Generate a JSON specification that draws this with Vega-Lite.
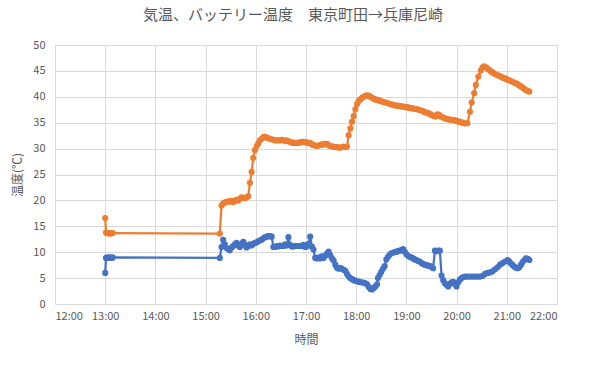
{
  "$schema": "https://vega.github.io/schema/vega-lite/v6.json",
  "width": 502,
  "height": 259,
  "autosize": {"type": "none"},
  "padding": {"left": 55, "top": 45, "right": 47, "bottom": 62},
  "background": "white",
  "title": {
    "text": "気温、バッテリー温度　東京町田→兵庫尼崎",
    "anchor": "middle",
    "dx": -13,
    "offset": 16,
    "font": "Noto Sans CJK JP",
    "fontSize": 15,
    "fontWeight": "normal",
    "color": "#595959"
  },
  "data": {
    "values": [
      {"t": "2024-01-01T13:00", "s": "気温", "v": 6.0},
      {"t": "2024-01-01T13:01", "s": "気温", "v": 8.9},
      {"t": "2024-01-01T13:02", "s": "気温", "v": 8.9},
      {"t": "2024-01-01T13:03", "s": "気温", "v": 9.0},
      {"t": "2024-01-01T13:04", "s": "気温", "v": 8.9},
      {"t": "2024-01-01T13:05", "s": "気温", "v": 8.9},
      {"t": "2024-01-01T13:06", "s": "気温", "v": 9.0},
      {"t": "2024-01-01T13:07", "s": "気温", "v": 8.9},
      {"t": "2024-01-01T13:08", "s": "気温", "v": 8.9},
      {"t": "2024-01-01T13:09", "s": "気温", "v": 9.0},
      {"t": "2024-01-01T15:17", "s": "気温", "v": 8.9},
      {"t": "2024-01-01T15:19", "s": "気温", "v": 11.0},
      {"t": "2024-01-01T15:21", "s": "気温", "v": 12.4},
      {"t": "2024-01-01T15:23", "s": "気温", "v": 11.5},
      {"t": "2024-01-01T15:25", "s": "気温", "v": 10.8},
      {"t": "2024-01-01T15:27", "s": "気温", "v": 10.6},
      {"t": "2024-01-01T15:29", "s": "気温", "v": 10.4},
      {"t": "2024-01-01T15:31", "s": "気温", "v": 10.9},
      {"t": "2024-01-01T15:33", "s": "気温", "v": 11.2},
      {"t": "2024-01-01T15:35", "s": "気温", "v": 11.5},
      {"t": "2024-01-01T15:37", "s": "気温", "v": 11.8},
      {"t": "2024-01-01T15:39", "s": "気温", "v": 11.3},
      {"t": "2024-01-01T15:41", "s": "気温", "v": 11.0},
      {"t": "2024-01-01T15:43", "s": "気温", "v": 11.6},
      {"t": "2024-01-01T15:45", "s": "気温", "v": 12.0},
      {"t": "2024-01-01T15:47", "s": "気温", "v": 11.4},
      {"t": "2024-01-01T15:49", "s": "気温", "v": 10.9},
      {"t": "2024-01-01T15:51", "s": "気温", "v": 11.2},
      {"t": "2024-01-01T15:53", "s": "気温", "v": 11.5},
      {"t": "2024-01-01T15:55", "s": "気温", "v": 11.3},
      {"t": "2024-01-01T15:57", "s": "気温", "v": 11.6},
      {"t": "2024-01-01T15:59", "s": "気温", "v": 11.8},
      {"t": "2024-01-01T16:01", "s": "気温", "v": 11.9},
      {"t": "2024-01-01T16:03", "s": "気温", "v": 12.1},
      {"t": "2024-01-01T16:05", "s": "気温", "v": 12.3},
      {"t": "2024-01-01T16:07", "s": "気温", "v": 12.4},
      {"t": "2024-01-01T16:09", "s": "気温", "v": 12.7},
      {"t": "2024-01-01T16:11", "s": "気温", "v": 12.9},
      {"t": "2024-01-01T16:13", "s": "気温", "v": 13.0},
      {"t": "2024-01-01T16:15", "s": "気温", "v": 13.1},
      {"t": "2024-01-01T16:17", "s": "気温", "v": 13.1},
      {"t": "2024-01-01T16:19", "s": "気温", "v": 13.0},
      {"t": "2024-01-01T16:21", "s": "気温", "v": 11.0},
      {"t": "2024-01-01T16:23", "s": "気温", "v": 11.0},
      {"t": "2024-01-01T16:25", "s": "気温", "v": 11.2},
      {"t": "2024-01-01T16:27", "s": "気温", "v": 11.1},
      {"t": "2024-01-01T16:29", "s": "気温", "v": 11.3},
      {"t": "2024-01-01T16:31", "s": "気温", "v": 11.2},
      {"t": "2024-01-01T16:33", "s": "気温", "v": 11.2},
      {"t": "2024-01-01T16:35", "s": "気温", "v": 11.5},
      {"t": "2024-01-01T16:37", "s": "気温", "v": 11.3},
      {"t": "2024-01-01T16:39", "s": "気温", "v": 12.9},
      {"t": "2024-01-01T16:41", "s": "気温", "v": 11.4},
      {"t": "2024-01-01T16:43", "s": "気温", "v": 11.1},
      {"t": "2024-01-01T16:45", "s": "気温", "v": 11.1},
      {"t": "2024-01-01T16:47", "s": "気温", "v": 11.2},
      {"t": "2024-01-01T16:49", "s": "気温", "v": 11.2},
      {"t": "2024-01-01T16:51", "s": "気温", "v": 11.2},
      {"t": "2024-01-01T16:53", "s": "気温", "v": 11.2},
      {"t": "2024-01-01T16:55", "s": "気温", "v": 11.2},
      {"t": "2024-01-01T16:57", "s": "気温", "v": 11.4},
      {"t": "2024-01-01T16:59", "s": "気温", "v": 11.0},
      {"t": "2024-01-01T17:01", "s": "気温", "v": 11.1},
      {"t": "2024-01-01T17:03", "s": "気温", "v": 11.6},
      {"t": "2024-01-01T17:05", "s": "気温", "v": 13.0},
      {"t": "2024-01-01T17:07", "s": "気温", "v": 11.1},
      {"t": "2024-01-01T17:09", "s": "気温", "v": 10.5},
      {"t": "2024-01-01T17:11", "s": "気温", "v": 8.9},
      {"t": "2024-01-01T17:13", "s": "気温", "v": 8.8},
      {"t": "2024-01-01T17:15", "s": "気温", "v": 9.0},
      {"t": "2024-01-01T17:17", "s": "気温", "v": 8.8},
      {"t": "2024-01-01T17:19", "s": "気温", "v": 9.2},
      {"t": "2024-01-01T17:21", "s": "気温", "v": 8.9},
      {"t": "2024-01-01T17:23", "s": "気温", "v": 9.3},
      {"t": "2024-01-01T17:25", "s": "気温", "v": 9.7},
      {"t": "2024-01-01T17:27", "s": "気温", "v": 10.1},
      {"t": "2024-01-01T17:29", "s": "気温", "v": 9.4},
      {"t": "2024-01-01T17:31", "s": "気温", "v": 8.8},
      {"t": "2024-01-01T17:33", "s": "気温", "v": 8.4},
      {"t": "2024-01-01T17:35", "s": "気温", "v": 7.6},
      {"t": "2024-01-01T17:37", "s": "気温", "v": 7.0},
      {"t": "2024-01-01T17:39", "s": "気温", "v": 6.8},
      {"t": "2024-01-01T17:41", "s": "気温", "v": 7.0},
      {"t": "2024-01-01T17:43", "s": "気温", "v": 6.8},
      {"t": "2024-01-01T17:45", "s": "気温", "v": 6.6},
      {"t": "2024-01-01T17:47", "s": "気温", "v": 6.4},
      {"t": "2024-01-01T17:49", "s": "気温", "v": 5.8},
      {"t": "2024-01-01T17:51", "s": "気温", "v": 5.3},
      {"t": "2024-01-01T17:53", "s": "気温", "v": 5.0},
      {"t": "2024-01-01T17:55", "s": "気温", "v": 4.8},
      {"t": "2024-01-01T17:57", "s": "気温", "v": 4.6},
      {"t": "2024-01-01T17:59", "s": "気温", "v": 4.5},
      {"t": "2024-01-01T18:01", "s": "気温", "v": 4.4},
      {"t": "2024-01-01T18:03", "s": "気温", "v": 4.3},
      {"t": "2024-01-01T18:05", "s": "気温", "v": 4.2},
      {"t": "2024-01-01T18:07", "s": "気温", "v": 4.2},
      {"t": "2024-01-01T18:09", "s": "気温", "v": 4.1},
      {"t": "2024-01-01T18:11", "s": "気温", "v": 4.0},
      {"t": "2024-01-01T18:13", "s": "気温", "v": 3.8},
      {"t": "2024-01-01T18:15", "s": "気温", "v": 3.3},
      {"t": "2024-01-01T18:17", "s": "気温", "v": 2.9},
      {"t": "2024-01-01T18:19", "s": "気温", "v": 2.8},
      {"t": "2024-01-01T18:21", "s": "気温", "v": 3.1},
      {"t": "2024-01-01T18:23", "s": "気温", "v": 3.4},
      {"t": "2024-01-01T18:25", "s": "気温", "v": 3.8},
      {"t": "2024-01-01T18:26", "s": "気温", "v": 5.0},
      {"t": "2024-01-01T18:28", "s": "気温", "v": 5.6},
      {"t": "2024-01-01T18:30", "s": "気温", "v": 6.2},
      {"t": "2024-01-01T18:32", "s": "気温", "v": 6.8},
      {"t": "2024-01-01T18:34", "s": "気温", "v": 7.3},
      {"t": "2024-01-01T18:36", "s": "気温", "v": 8.6},
      {"t": "2024-01-01T18:38", "s": "気温", "v": 9.1},
      {"t": "2024-01-01T18:40", "s": "気温", "v": 9.5},
      {"t": "2024-01-01T18:42", "s": "気温", "v": 9.8},
      {"t": "2024-01-01T18:44", "s": "気温", "v": 9.9},
      {"t": "2024-01-01T18:46", "s": "気温", "v": 10.0},
      {"t": "2024-01-01T18:48", "s": "気温", "v": 10.1},
      {"t": "2024-01-01T18:50", "s": "気温", "v": 10.2},
      {"t": "2024-01-01T18:52", "s": "気温", "v": 10.3},
      {"t": "2024-01-01T18:54", "s": "気温", "v": 10.4},
      {"t": "2024-01-01T18:56", "s": "気温", "v": 10.6},
      {"t": "2024-01-01T18:58", "s": "気温", "v": 10.1},
      {"t": "2024-01-01T19:00", "s": "気温", "v": 9.6},
      {"t": "2024-01-01T19:02", "s": "気温", "v": 9.3},
      {"t": "2024-01-01T19:04", "s": "気温", "v": 9.1},
      {"t": "2024-01-01T19:06", "s": "気温", "v": 9.0},
      {"t": "2024-01-01T19:08", "s": "気温", "v": 8.8},
      {"t": "2024-01-01T19:10", "s": "気温", "v": 8.6},
      {"t": "2024-01-01T19:12", "s": "気温", "v": 8.5},
      {"t": "2024-01-01T19:14", "s": "気温", "v": 8.3},
      {"t": "2024-01-01T19:16", "s": "気温", "v": 8.2},
      {"t": "2024-01-01T19:18", "s": "気温", "v": 7.9},
      {"t": "2024-01-01T19:20", "s": "気温", "v": 7.7},
      {"t": "2024-01-01T19:22", "s": "気温", "v": 7.6},
      {"t": "2024-01-01T19:24", "s": "気温", "v": 7.5},
      {"t": "2024-01-01T19:26", "s": "気温", "v": 7.4},
      {"t": "2024-01-01T19:28", "s": "気温", "v": 7.3},
      {"t": "2024-01-01T19:30", "s": "気温", "v": 7.2},
      {"t": "2024-01-01T19:32", "s": "気温", "v": 6.9},
      {"t": "2024-01-01T19:34", "s": "気温", "v": 10.3},
      {"t": "2024-01-01T19:36", "s": "気温", "v": 10.2},
      {"t": "2024-01-01T19:38", "s": "気温", "v": 10.3},
      {"t": "2024-01-01T19:40", "s": "気温", "v": 10.3},
      {"t": "2024-01-01T19:42", "s": "気温", "v": 5.5},
      {"t": "2024-01-01T19:44", "s": "気温", "v": 4.6},
      {"t": "2024-01-01T19:46", "s": "気温", "v": 4.0},
      {"t": "2024-01-01T19:48", "s": "気温", "v": 3.7},
      {"t": "2024-01-01T19:50", "s": "気温", "v": 3.4},
      {"t": "2024-01-01T19:52", "s": "気温", "v": 3.9},
      {"t": "2024-01-01T19:54", "s": "気温", "v": 4.2},
      {"t": "2024-01-01T19:56", "s": "気温", "v": 4.3},
      {"t": "2024-01-01T19:58", "s": "気温", "v": 3.8},
      {"t": "2024-01-01T20:00", "s": "気温", "v": 3.4},
      {"t": "2024-01-01T20:02", "s": "気温", "v": 4.2},
      {"t": "2024-01-01T20:04", "s": "気温", "v": 4.7},
      {"t": "2024-01-01T20:06", "s": "気温", "v": 5.0},
      {"t": "2024-01-01T20:08", "s": "気温", "v": 5.2},
      {"t": "2024-01-01T20:10", "s": "気温", "v": 5.3},
      {"t": "2024-01-01T20:13", "s": "気温", "v": 5.3},
      {"t": "2024-01-01T20:16", "s": "気温", "v": 5.3},
      {"t": "2024-01-01T20:19", "s": "気温", "v": 5.3},
      {"t": "2024-01-01T20:22", "s": "気温", "v": 5.3},
      {"t": "2024-01-01T20:25", "s": "気温", "v": 5.3},
      {"t": "2024-01-01T20:28", "s": "気温", "v": 5.3},
      {"t": "2024-01-01T20:31", "s": "気温", "v": 5.4},
      {"t": "2024-01-01T20:34", "s": "気温", "v": 5.8},
      {"t": "2024-01-01T20:37", "s": "気温", "v": 6.0},
      {"t": "2024-01-01T20:40", "s": "気温", "v": 6.1},
      {"t": "2024-01-01T20:43", "s": "気温", "v": 6.3},
      {"t": "2024-01-01T20:46", "s": "気温", "v": 6.7},
      {"t": "2024-01-01T20:49", "s": "気温", "v": 7.1},
      {"t": "2024-01-01T20:52", "s": "気温", "v": 7.6},
      {"t": "2024-01-01T20:55", "s": "気温", "v": 7.9},
      {"t": "2024-01-01T20:58", "s": "気温", "v": 8.2},
      {"t": "2024-01-01T21:01", "s": "気温", "v": 8.5},
      {"t": "2024-01-01T21:03", "s": "気温", "v": 8.2},
      {"t": "2024-01-01T21:05", "s": "気温", "v": 7.8},
      {"t": "2024-01-01T21:07", "s": "気温", "v": 7.5},
      {"t": "2024-01-01T21:09", "s": "気温", "v": 7.2},
      {"t": "2024-01-01T21:11", "s": "気温", "v": 7.0},
      {"t": "2024-01-01T21:13", "s": "気温", "v": 6.9},
      {"t": "2024-01-01T21:15", "s": "気温", "v": 7.1},
      {"t": "2024-01-01T21:17", "s": "気温", "v": 7.6},
      {"t": "2024-01-01T21:19", "s": "気温", "v": 8.1},
      {"t": "2024-01-01T21:21", "s": "気温", "v": 8.5},
      {"t": "2024-01-01T21:23", "s": "気温", "v": 8.8},
      {"t": "2024-01-01T21:25", "s": "気温", "v": 8.7},
      {"t": "2024-01-01T21:27", "s": "気温", "v": 8.5},
      {"t": "2024-01-01T13:00", "s": "バッテリー温度", "v": 16.6},
      {"t": "2024-01-01T13:01", "s": "バッテリー温度", "v": 13.8},
      {"t": "2024-01-01T13:02", "s": "バッテリー温度", "v": 13.7},
      {"t": "2024-01-01T13:03", "s": "バッテリー温度", "v": 13.7},
      {"t": "2024-01-01T13:04", "s": "バッテリー温度", "v": 13.6},
      {"t": "2024-01-01T13:05", "s": "バッテリー温度", "v": 13.7},
      {"t": "2024-01-01T13:06", "s": "バッテリー温度", "v": 13.7},
      {"t": "2024-01-01T13:07", "s": "バッテリー温度", "v": 13.6},
      {"t": "2024-01-01T13:08", "s": "バッテリー温度", "v": 13.7},
      {"t": "2024-01-01T13:09", "s": "バッテリー温度", "v": 13.7},
      {"t": "2024-01-01T15:17", "s": "バッテリー温度", "v": 13.6},
      {"t": "2024-01-01T15:19", "s": "バッテリー温度", "v": 19.0},
      {"t": "2024-01-01T15:21", "s": "バッテリー温度", "v": 19.4},
      {"t": "2024-01-01T15:23", "s": "バッテリー温度", "v": 19.6},
      {"t": "2024-01-01T15:25", "s": "バッテリー温度", "v": 19.7},
      {"t": "2024-01-01T15:27", "s": "バッテリー温度", "v": 19.8},
      {"t": "2024-01-01T15:29", "s": "バッテリー温度", "v": 19.8},
      {"t": "2024-01-01T15:31", "s": "バッテリー温度", "v": 19.9},
      {"t": "2024-01-01T15:33", "s": "バッテリー温度", "v": 19.7},
      {"t": "2024-01-01T15:35", "s": "バッテリー温度", "v": 19.9},
      {"t": "2024-01-01T15:37", "s": "バッテリー温度", "v": 20.1},
      {"t": "2024-01-01T15:39", "s": "バッテリー温度", "v": 20.0},
      {"t": "2024-01-01T15:41", "s": "バッテリー温度", "v": 20.3},
      {"t": "2024-01-01T15:43", "s": "バッテリー温度", "v": 20.6},
      {"t": "2024-01-01T15:45", "s": "バッテリー温度", "v": 20.5},
      {"t": "2024-01-01T15:47", "s": "バッテリー温度", "v": 20.4},
      {"t": "2024-01-01T15:49", "s": "バッテリー温度", "v": 20.6},
      {"t": "2024-01-01T15:51", "s": "バッテリー温度", "v": 20.8},
      {"t": "2024-01-01T15:53", "s": "バッテリー温度", "v": 23.4},
      {"t": "2024-01-01T15:55", "s": "バッテリー温度", "v": 25.5},
      {"t": "2024-01-01T15:57", "s": "バッテリー温度", "v": 28.2},
      {"t": "2024-01-01T15:59", "s": "バッテリー温度", "v": 29.7},
      {"t": "2024-01-01T16:01", "s": "バッテリー温度", "v": 30.5},
      {"t": "2024-01-01T16:03", "s": "バッテリー温度", "v": 31.0},
      {"t": "2024-01-01T16:05", "s": "バッテリー温度", "v": 31.6},
      {"t": "2024-01-01T16:07", "s": "バッテリー温度", "v": 31.9},
      {"t": "2024-01-01T16:09", "s": "バッテリー温度", "v": 32.2},
      {"t": "2024-01-01T16:11", "s": "バッテリー温度", "v": 32.3},
      {"t": "2024-01-01T16:13", "s": "バッテリー温度", "v": 32.1},
      {"t": "2024-01-01T16:15", "s": "バッテリー温度", "v": 32.0},
      {"t": "2024-01-01T16:17", "s": "バッテリー温度", "v": 31.9},
      {"t": "2024-01-01T16:19", "s": "バッテリー温度", "v": 31.8},
      {"t": "2024-01-01T16:21", "s": "バッテリー温度", "v": 31.7},
      {"t": "2024-01-01T16:23", "s": "バッテリー温度", "v": 31.6},
      {"t": "2024-01-01T16:25", "s": "バッテリー温度", "v": 31.6},
      {"t": "2024-01-01T16:27", "s": "バッテリー温度", "v": 31.6},
      {"t": "2024-01-01T16:29", "s": "バッテリー温度", "v": 31.6},
      {"t": "2024-01-01T16:31", "s": "バッテリー温度", "v": 31.7},
      {"t": "2024-01-01T16:33", "s": "バッテリー温度", "v": 31.6},
      {"t": "2024-01-01T16:35", "s": "バッテリー温度", "v": 31.5},
      {"t": "2024-01-01T16:37", "s": "バッテリー温度", "v": 31.6},
      {"t": "2024-01-01T16:39", "s": "バッテリー温度", "v": 31.4},
      {"t": "2024-01-01T16:41", "s": "バッテリー温度", "v": 31.3},
      {"t": "2024-01-01T16:43", "s": "バッテリー温度", "v": 31.2},
      {"t": "2024-01-01T16:45", "s": "バッテリー温度", "v": 31.1},
      {"t": "2024-01-01T16:47", "s": "バッテリー温度", "v": 31.1},
      {"t": "2024-01-01T16:49", "s": "バッテリー温度", "v": 31.1},
      {"t": "2024-01-01T16:51", "s": "バッテリー温度", "v": 31.1},
      {"t": "2024-01-01T16:53", "s": "バッテリー温度", "v": 31.2},
      {"t": "2024-01-01T16:55", "s": "バッテリー温度", "v": 31.3},
      {"t": "2024-01-01T16:57", "s": "バッテリー温度", "v": 31.3},
      {"t": "2024-01-01T16:59", "s": "バッテリー温度", "v": 31.2},
      {"t": "2024-01-01T17:01", "s": "バッテリー温度", "v": 31.2},
      {"t": "2024-01-01T17:03", "s": "バッテリー温度", "v": 31.1},
      {"t": "2024-01-01T17:05", "s": "バッテリー温度", "v": 31.1},
      {"t": "2024-01-01T17:07", "s": "バッテリー温度", "v": 30.8},
      {"t": "2024-01-01T17:09", "s": "バッテリー温度", "v": 30.7},
      {"t": "2024-01-01T17:11", "s": "バッテリー温度", "v": 30.6},
      {"t": "2024-01-01T17:13", "s": "バッテリー温度", "v": 30.5},
      {"t": "2024-01-01T17:15", "s": "バッテリー温度", "v": 30.6},
      {"t": "2024-01-01T17:17", "s": "バッテリー温度", "v": 30.7},
      {"t": "2024-01-01T17:19", "s": "バッテリー温度", "v": 30.8},
      {"t": "2024-01-01T17:21", "s": "バッテリー温度", "v": 30.8},
      {"t": "2024-01-01T17:23", "s": "バッテリー温度", "v": 30.9},
      {"t": "2024-01-01T17:25", "s": "バッテリー温度", "v": 30.9},
      {"t": "2024-01-01T17:27", "s": "バッテリー温度", "v": 30.7},
      {"t": "2024-01-01T17:29", "s": "バッテリー温度", "v": 30.5},
      {"t": "2024-01-01T17:31", "s": "バッテリー温度", "v": 30.4},
      {"t": "2024-01-01T17:33", "s": "バッテリー温度", "v": 30.4},
      {"t": "2024-01-01T17:35", "s": "バッテリー温度", "v": 30.3},
      {"t": "2024-01-01T17:37", "s": "バッテリー温度", "v": 30.3},
      {"t": "2024-01-01T17:39", "s": "バッテリー温度", "v": 30.2},
      {"t": "2024-01-01T17:41", "s": "バッテリー温度", "v": 30.2},
      {"t": "2024-01-01T17:43", "s": "バッテリー温度", "v": 30.3},
      {"t": "2024-01-01T17:45", "s": "バッテリー温度", "v": 30.4},
      {"t": "2024-01-01T17:47", "s": "バッテリー温度", "v": 30.3},
      {"t": "2024-01-01T17:49", "s": "バッテリー温度", "v": 30.4},
      {"t": "2024-01-01T17:51", "s": "バッテリー温度", "v": 32.6},
      {"t": "2024-01-01T17:53", "s": "バッテリー温度", "v": 33.9},
      {"t": "2024-01-01T17:55", "s": "バッテリー温度", "v": 35.2},
      {"t": "2024-01-01T17:57", "s": "バッテリー温度", "v": 36.3},
      {"t": "2024-01-01T17:59", "s": "バッテリー温度", "v": 37.6},
      {"t": "2024-01-01T18:01", "s": "バッテリー温度", "v": 38.6},
      {"t": "2024-01-01T18:03", "s": "バッテリー温度", "v": 39.2},
      {"t": "2024-01-01T18:05", "s": "バッテリー温度", "v": 39.5},
      {"t": "2024-01-01T18:07", "s": "バッテリー温度", "v": 39.8},
      {"t": "2024-01-01T18:09", "s": "バッテリー温度", "v": 40.0},
      {"t": "2024-01-01T18:11", "s": "バッテリー温度", "v": 40.2},
      {"t": "2024-01-01T18:13", "s": "バッテリー温度", "v": 40.3},
      {"t": "2024-01-01T18:15", "s": "バッテリー温度", "v": 40.2},
      {"t": "2024-01-01T18:17", "s": "バッテリー温度", "v": 40.0},
      {"t": "2024-01-01T18:19", "s": "バッテリー温度", "v": 39.8},
      {"t": "2024-01-01T18:21", "s": "バッテリー温度", "v": 39.6},
      {"t": "2024-01-01T18:23", "s": "バッテリー温度", "v": 39.5},
      {"t": "2024-01-01T18:25", "s": "バッテリー温度", "v": 39.4},
      {"t": "2024-01-01T18:27", "s": "バッテリー温度", "v": 39.3},
      {"t": "2024-01-01T18:29", "s": "バッテリー温度", "v": 39.2},
      {"t": "2024-01-01T18:31", "s": "バッテリー温度", "v": 39.1},
      {"t": "2024-01-01T18:33", "s": "バッテリー温度", "v": 39.0},
      {"t": "2024-01-01T18:35", "s": "バッテリー温度", "v": 38.9},
      {"t": "2024-01-01T18:37", "s": "バッテリー温度", "v": 38.8},
      {"t": "2024-01-01T18:39", "s": "バッテリー温度", "v": 38.7},
      {"t": "2024-01-01T18:41", "s": "バッテリー温度", "v": 38.6},
      {"t": "2024-01-01T18:43", "s": "バッテリー温度", "v": 38.5},
      {"t": "2024-01-01T18:45", "s": "バッテリー温度", "v": 38.4},
      {"t": "2024-01-01T18:47", "s": "バッテリー温度", "v": 38.3},
      {"t": "2024-01-01T18:49", "s": "バッテリー温度", "v": 38.3},
      {"t": "2024-01-01T18:51", "s": "バッテリー温度", "v": 38.2},
      {"t": "2024-01-01T18:53", "s": "バッテリー温度", "v": 38.2},
      {"t": "2024-01-01T18:55", "s": "バッテリー温度", "v": 38.1},
      {"t": "2024-01-01T18:57", "s": "バッテリー温度", "v": 38.1},
      {"t": "2024-01-01T18:59", "s": "バッテリー温度", "v": 38.0},
      {"t": "2024-01-01T19:01", "s": "バッテリー温度", "v": 38.0},
      {"t": "2024-01-01T19:03", "s": "バッテリー温度", "v": 37.9},
      {"t": "2024-01-01T19:05", "s": "バッテリー温度", "v": 37.8},
      {"t": "2024-01-01T19:07", "s": "バッテリー温度", "v": 37.8},
      {"t": "2024-01-01T19:09", "s": "バッテリー温度", "v": 37.7},
      {"t": "2024-01-01T19:11", "s": "バッテリー温度", "v": 37.7},
      {"t": "2024-01-01T19:13", "s": "バッテリー温度", "v": 37.6},
      {"t": "2024-01-01T19:15", "s": "バッテリー温度", "v": 37.5},
      {"t": "2024-01-01T19:17", "s": "バッテリー温度", "v": 37.4},
      {"t": "2024-01-01T19:19", "s": "バッテリー温度", "v": 37.3},
      {"t": "2024-01-01T19:21", "s": "バッテリー温度", "v": 37.1},
      {"t": "2024-01-01T19:23", "s": "バッテリー温度", "v": 37.0},
      {"t": "2024-01-01T19:25", "s": "バッテリー温度", "v": 36.9},
      {"t": "2024-01-01T19:27", "s": "バッテリー温度", "v": 36.8},
      {"t": "2024-01-01T19:29", "s": "バッテリー温度", "v": 36.6},
      {"t": "2024-01-01T19:31", "s": "バッテリー温度", "v": 36.4},
      {"t": "2024-01-01T19:33", "s": "バッテリー温度", "v": 36.3},
      {"t": "2024-01-01T19:35", "s": "バッテリー温度", "v": 36.2},
      {"t": "2024-01-01T19:37", "s": "バッテリー温度", "v": 36.6},
      {"t": "2024-01-01T19:39", "s": "バッテリー温度", "v": 36.5},
      {"t": "2024-01-01T19:41", "s": "バッテリー温度", "v": 36.2},
      {"t": "2024-01-01T19:43", "s": "バッテリー温度", "v": 36.1},
      {"t": "2024-01-01T19:45", "s": "バッテリー温度", "v": 35.9},
      {"t": "2024-01-01T19:47", "s": "バッテリー温度", "v": 35.8},
      {"t": "2024-01-01T19:49", "s": "バッテリー温度", "v": 35.7},
      {"t": "2024-01-01T19:51", "s": "バッテリー温度", "v": 35.6},
      {"t": "2024-01-01T19:53", "s": "バッテリー温度", "v": 35.6},
      {"t": "2024-01-01T19:55", "s": "バッテリー温度", "v": 35.5},
      {"t": "2024-01-01T19:57", "s": "バッテリー温度", "v": 35.5},
      {"t": "2024-01-01T19:59", "s": "バッテリー温度", "v": 35.4},
      {"t": "2024-01-01T20:01", "s": "バッテリー温度", "v": 35.3},
      {"t": "2024-01-01T20:03", "s": "バッテリー温度", "v": 35.2},
      {"t": "2024-01-01T20:05", "s": "バッテリー温度", "v": 35.1},
      {"t": "2024-01-01T20:07", "s": "バッテリー温度", "v": 35.0},
      {"t": "2024-01-01T20:09", "s": "バッテリー温度", "v": 34.9},
      {"t": "2024-01-01T20:11", "s": "バッテリー温度", "v": 34.9},
      {"t": "2024-01-01T20:13", "s": "バッテリー温度", "v": 34.9},
      {"t": "2024-01-01T20:16", "s": "バッテリー温度", "v": 37.1},
      {"t": "2024-01-01T20:18", "s": "バッテリー温度", "v": 38.9},
      {"t": "2024-01-01T20:21", "s": "バッテリー温度", "v": 40.7},
      {"t": "2024-01-01T20:23", "s": "バッテリー温度", "v": 42.3},
      {"t": "2024-01-01T20:26", "s": "バッテリー温度", "v": 43.9},
      {"t": "2024-01-01T20:29", "s": "バッテリー温度", "v": 45.1},
      {"t": "2024-01-01T20:31", "s": "バッテリー温度", "v": 45.7},
      {"t": "2024-01-01T20:33", "s": "バッテリー温度", "v": 45.9},
      {"t": "2024-01-01T20:35", "s": "バッテリー温度", "v": 45.7},
      {"t": "2024-01-01T20:37", "s": "バッテリー温度", "v": 45.4},
      {"t": "2024-01-01T20:39", "s": "バッテリー温度", "v": 45.2},
      {"t": "2024-01-01T20:41", "s": "バッテリー温度", "v": 44.9},
      {"t": "2024-01-01T20:43", "s": "バッテリー温度", "v": 44.7},
      {"t": "2024-01-01T20:45", "s": "バッテリー温度", "v": 44.5},
      {"t": "2024-01-01T20:47", "s": "バッテリー温度", "v": 44.3},
      {"t": "2024-01-01T20:49", "s": "バッテリー温度", "v": 44.2},
      {"t": "2024-01-01T20:51", "s": "バッテリー温度", "v": 44.0},
      {"t": "2024-01-01T20:53", "s": "バッテリー温度", "v": 43.9},
      {"t": "2024-01-01T20:55", "s": "バッテリー温度", "v": 43.7},
      {"t": "2024-01-01T20:57", "s": "バッテリー温度", "v": 43.6},
      {"t": "2024-01-01T20:59", "s": "バッテリー温度", "v": 43.5},
      {"t": "2024-01-01T21:01", "s": "バッテリー温度", "v": 43.3},
      {"t": "2024-01-01T21:03", "s": "バッテリー温度", "v": 43.2},
      {"t": "2024-01-01T21:05", "s": "バッテリー温度", "v": 43.0},
      {"t": "2024-01-01T21:07", "s": "バッテリー温度", "v": 42.9},
      {"t": "2024-01-01T21:09", "s": "バッテリー温度", "v": 42.7},
      {"t": "2024-01-01T21:11", "s": "バッテリー温度", "v": 42.6},
      {"t": "2024-01-01T21:13", "s": "バッテリー温度", "v": 42.4},
      {"t": "2024-01-01T21:15", "s": "バッテリー温度", "v": 42.2},
      {"t": "2024-01-01T21:17", "s": "バッテリー温度", "v": 42.0},
      {"t": "2024-01-01T21:19", "s": "バッテリー温度", "v": 41.8},
      {"t": "2024-01-01T21:21", "s": "バッテリー温度", "v": 41.5},
      {"t": "2024-01-01T21:23", "s": "バッテリー温度", "v": 41.3},
      {"t": "2024-01-01T21:25", "s": "バッテリー温度", "v": 41.1},
      {"t": "2024-01-01T21:27", "s": "バッテリー温度", "v": 41.0}
    ]
  },
  "mark": {
    "type": "line",
    "strokeWidth": 2.25,
    "point": {"filled": true, "size": 38}
  },
  "encoding": {
    "x": {
      "field": "t",
      "type": "temporal",
      "title": "時間",
      "scale": {
        "domain": [
          {"year": 2024, "month": 1, "date": 1, "hours": 12},
          {"year": 2024, "month": 1, "date": 1, "hours": 22}
        ]
      },
      "axis": {
        "format": "%H:%M",
        "values": [
          {"year": 2024, "month": 1, "date": 1, "hours": 12},
          {"year": 2024, "month": 1, "date": 1, "hours": 13},
          {"year": 2024, "month": 1, "date": 1, "hours": 14},
          {"year": 2024, "month": 1, "date": 1, "hours": 15},
          {"year": 2024, "month": 1, "date": 1, "hours": 16},
          {"year": 2024, "month": 1, "date": 1, "hours": 17},
          {"year": 2024, "month": 1, "date": 1, "hours": 18},
          {"year": 2024, "month": 1, "date": 1, "hours": 19},
          {"year": 2024, "month": 1, "date": 1, "hours": 20},
          {"year": 2024, "month": 1, "date": 1, "hours": 21},
          {"year": 2024, "month": 1, "date": 1, "hours": 22}
        ],
        "labelPadding": 6,
        "titlePadding": 13
      }
    },
    "y": {
      "field": "v",
      "type": "quantitative",
      "title": "温度(℃)",
      "scale": {"domain": [0, 50], "nice": false},
      "axis": {
        "values": [0, 5, 10, 15, 20, 25, 30, 35, 40, 45, 50],
        "labelPadding": 10,
        "titlePadding": 8
      }
    },
    "color": {
      "field": "s",
      "type": "nominal",
      "scale": {"domain": ["気温", "バッテリー温度"], "range": ["#4472C4", "#ED7D31"]},
      "legend": null
    }
  },
  "config": {
    "view": {"stroke": null},
    "axis": {
      "grid": true,
      "gridColor": "#d9d9d9",
      "gridWidth": 1,
      "domain": false,
      "ticks": false,
      "labelFont": "Noto Sans CJK JP",
      "labelFontSize": 11,
      "labelColor": "#595959",
      "titleFont": "Noto Sans CJK JP",
      "titleFontSize": 12,
      "titleFontWeight": "normal",
      "titleColor": "#595959"
    }
  }
}
